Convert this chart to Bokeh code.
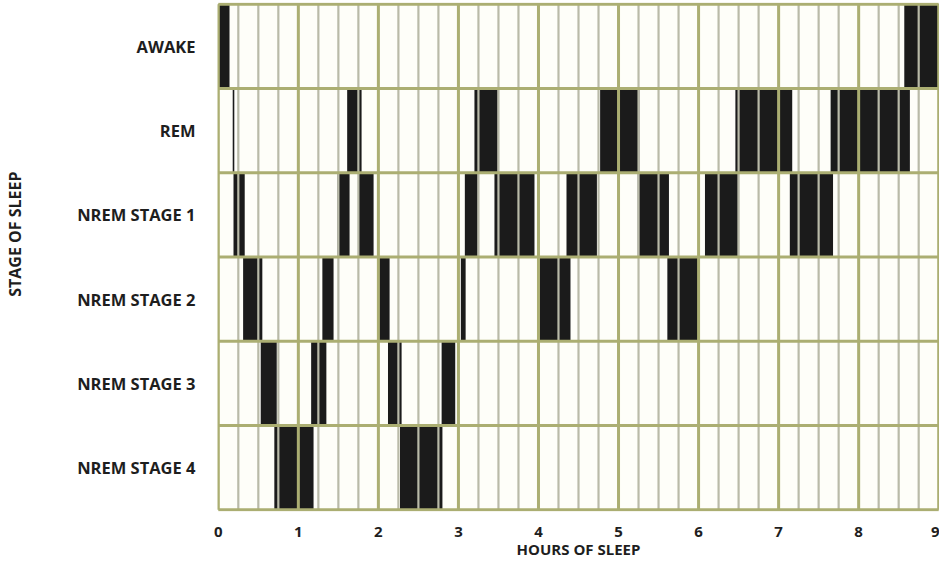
from bokeh.plotting import figure
from bokeh.models import Range1d, FixedTicker
from bokeh.embed import file_html
from bokeh.resources import INLINE

# ---- data (hours of sleep) ----
stage_names = ["NREM STAGE 4", "NREM STAGE 3", "NREM STAGE 2", "NREM STAGE 1", "REM", "AWAKE"]
hour_ticks = [0, 1, 2, 3, 4, 5, 6, 7, 8, 9]

awake_start = [0.0, 8.57]
awake_end = [0.14, 9.0]

rem_start = [0.18, 1.61, 3.20, 4.77, 6.46, 7.65]
rem_end = [0.20, 1.79, 3.49, 5.26, 7.17, 8.64]

nrem1_start = [0.19, 1.49, 1.75, 3.08, 3.45, 4.35, 5.24, 6.08, 7.14]
nrem1_end = [0.33, 1.64, 1.94, 3.24, 3.95, 4.73, 5.63, 6.49, 7.68]

nrem2_start = [0.31, 1.30, 2.00, 3.03, 4.01, 5.61]
nrem2_end = [0.55, 1.44, 2.14, 3.09, 4.40, 6.00]

nrem3_start = [0.53, 1.16, 2.12, 2.79]
nrem3_end = [0.73, 1.35, 2.29, 2.96]

nrem4_start = [0.70, 2.27]
nrem4_end = [1.19, 2.80]

segments = {
    "AWAKE": (awake_start, awake_end),
    "REM": (rem_start, rem_end),
    "NREM STAGE 1": (nrem1_start, nrem1_end),
    "NREM STAGE 2": (nrem2_start, nrem2_end),
    "NREM STAGE 3": (nrem3_start, nrem3_end),
    "NREM STAGE 4": (nrem4_start, nrem4_end),
}

# ---- style ----
OLIVE = "#abae72"
GREY = "#b9baa8"
CREAM = "#fefef9"
BLACK = "#1b1b1b"
TEXT = "#1e1e1e"
FONT = "Open Sans"

p = figure(width=939, height=563, output_backend="svg", toolbar_location=None,
           x_range=Range1d(-0.01, 9.01), y_range=Range1d(-0.02, 6.02),
           min_border_left=217, min_border_right=0, min_border_top=2,
           min_border_bottom=52)
p.outline_line_color = None
p.grid.visible = False
p.background_fill_color = "white"
p.border_fill_color = "white"

# cream background of the grid
p.quad(left=[0], right=[9], bottom=[0], top=[6], fill_color=CREAM, line_color=None)

# black sleep-stage bars
for i, name in enumerate(stage_names):
    s, e = segments[name]
    p.quad(left=s, right=e, bottom=[i] * len(s), top=[i + 1] * len(s),
           fill_color=BLACK, line_color=None)

# quarter-hour lines
quarters = [q / 4 for q in range(37) if q % 4 != 0]
p.segment(x0=quarters, x1=quarters, y0=[0] * len(quarters), y1=[6] * len(quarters),
          line_color=GREY, line_width=2.2)
# hour lines
p.segment(x0=hour_ticks, x1=hour_ticks, y0=[0] * 10, y1=[6] * 10,
          line_color=OLIVE, line_width=3)
# row lines
rows = list(range(7))
p.segment(x0=[0] * 7, x1=[9] * 7, y0=rows, y1=rows, line_color=OLIVE, line_width=3)

# axes
p.xaxis.ticker = FixedTicker(ticks=hour_ticks)
p.xaxis.axis_label = "HOURS OF SLEEP"
p.yaxis.ticker = FixedTicker(ticks=[i + 0.5 for i in range(6)])
p.yaxis.major_label_overrides = {i + 0.5: n for i, n in enumerate(stage_names)}
p.yaxis.axis_label = "\u00a0" * 11 + "STAGE OF SLEEP"

for ax in (p.xaxis[0], p.yaxis[0]):
    ax.axis_line_color = None
    ax.major_tick_line_color = None
    ax.minor_tick_line_color = None
    ax.major_tick_out = 0
    ax.major_tick_in = 0
    ax.minor_tick_out = 0
    ax.major_label_text_font = FONT
    ax.major_label_text_font_style = "bold"
    ax.major_label_text_color = TEXT
    ax.axis_label_text_font = FONT
    ax.axis_label_text_font_style = "bold"
    ax.axis_label_text_color = TEXT

p.xaxis.major_label_text_font_size = "15px"
p.xaxis.major_label_standoff = 15
p.xaxis.axis_label_text_font_size = "15px"
p.xaxis.axis_label_standoff = -1

p.yaxis.major_label_text_font_size = "16.5px"
p.yaxis.major_label_standoff = 22
p.yaxis.axis_label_text_font_size = "16px"
p.yaxis.axis_label_standoff = 48

open("out.html", "w").write(file_html(p, INLINE))
